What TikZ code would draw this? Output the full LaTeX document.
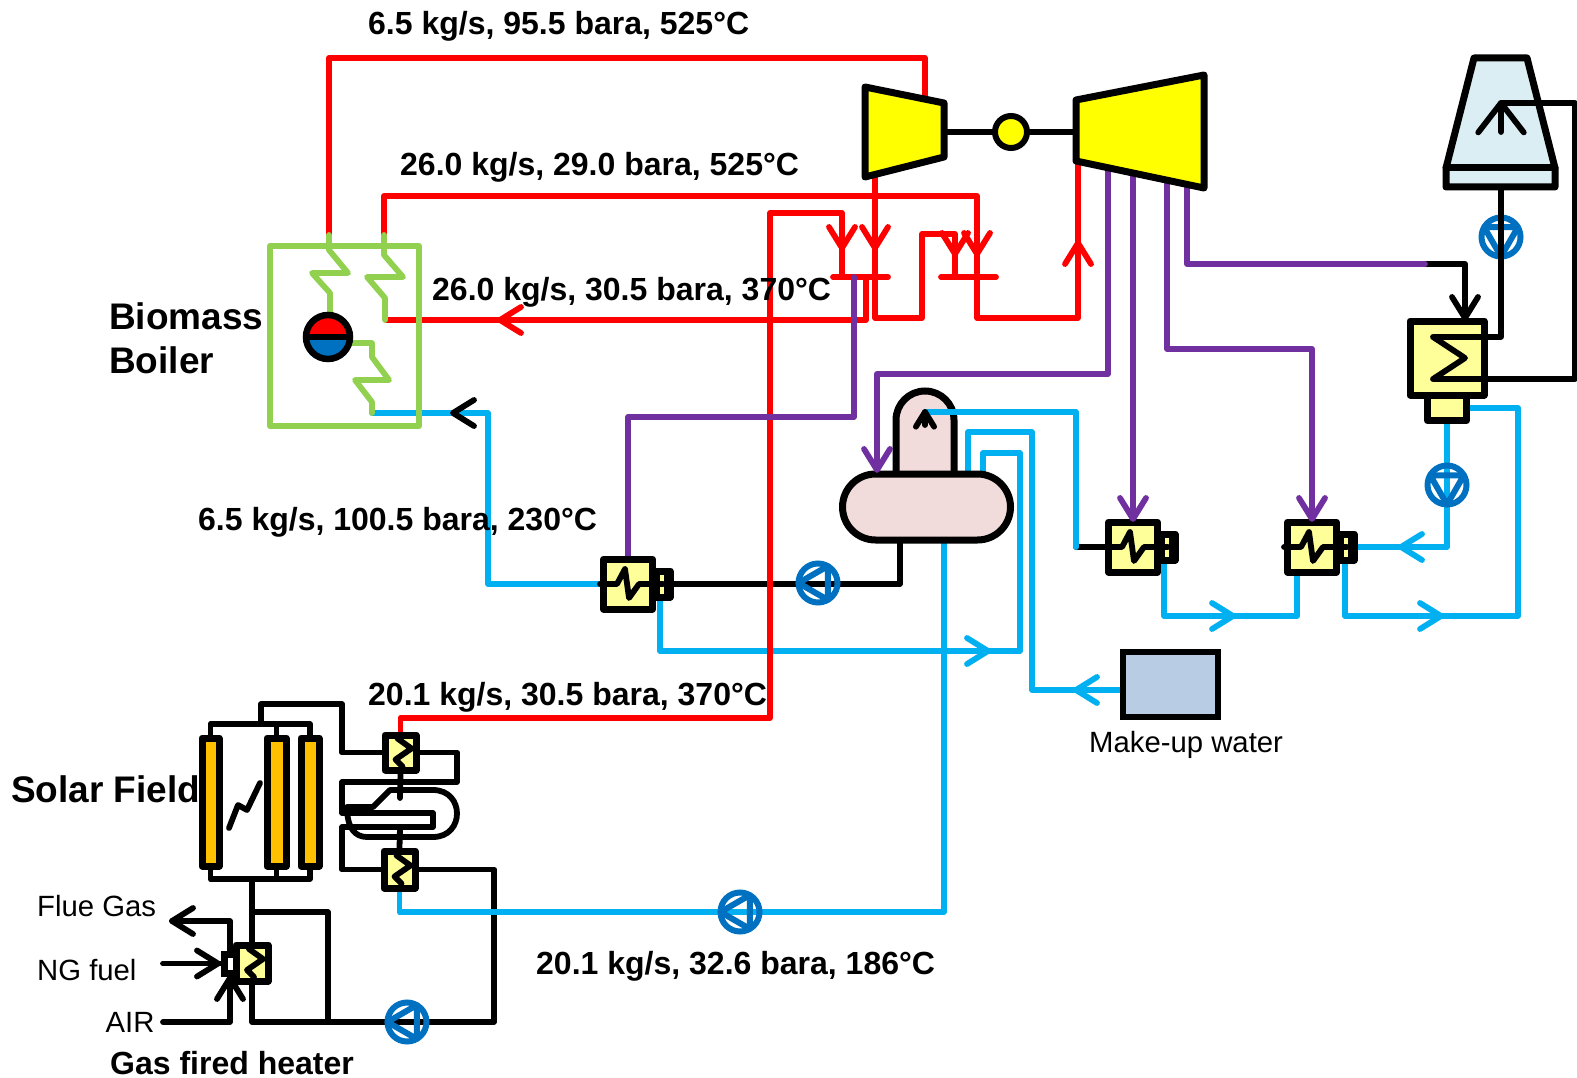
\documentclass[tikz,border=0pt]{standalone}
\usepackage{fontspec}
\setmainfont{Liberation Sans}
\usetikzlibrary{backgrounds}
\definecolor{pipered}{RGB}{255,0,0}
\definecolor{pipeblue}{RGB}{0,176,240}
\definecolor{pipepurple}{RGB}{112,48,160}
\definecolor{boilergreen}{RGB}{146,208,80}
\definecolor{pumpblue}{RGB}{0,112,192}
\definecolor{hxyellow}{RGB}{255,255,153}
\definecolor{turbyellow}{RGB}{255,255,0}
\definecolor{solarorange}{RGB}{255,192,0}
\definecolor{deapink}{RGB}{242,220,219}
\definecolor{towerblue}{RGB}{218,238,243}
\definecolor{tankblue}{RGB}{184,204,228}
\tikzset{
  pipe/.style={line width=5.8pt,line cap=round,line join=round},
  blackpipe/.style={pipe,draw=black},
  bluepipe/.style={pipe,draw=pipeblue},
  redpipe/.style={pipe,draw=pipered},
  purplepipe/.style={pipe,draw=pipepurple},
  greenpipe/.style={pipe,draw=boilergreen},
  hxbox/.style={draw=black,fill=hxyellow,line width=7pt,line join=round,inner sep=0pt},
  pumpnode/.style={circle,draw=pumpblue,line width=6pt,inner sep=0pt,minimum size=39pt},
  pumpline/.style={draw=pumpblue,line width=6pt,line join=round},
  solarbox/.style={draw=black,fill=solarorange,line width=7pt,line join=round,inner sep=0pt},
  biglabel/.style={font=\bfseries\fontsize{37}{44}\selectfont,anchor=west,inner sep=0pt,align=left},
  flowlabel/.style={font=\bfseries\fontsize{32}{38}\selectfont,anchor=west,inner sep=0pt},
  smalllabel/.style={font=\fontsize{29.3}{35}\selectfont,anchor=west,inner sep=0pt},
  chevron/.pic={\draw (-21,-13)--(0,0)--(-21,13);},
  hxcoil/.pic={\draw[blackpipe] (-3,-14)--(11,-4)--(-5,7)--(2,14);}
}
\begin{document}
\begin{tikzpicture}[x=1pt,y=-1pt]
  \useasboundingbox (0,0) rectangle (1577,1078);
  % turbines and shaft
  \coordinate(A0) at (865,87);
  \coordinate(A1) at (944,103);
  \coordinate(A2) at (944,157);
  \coordinate(A3) at (865,177);
  \coordinate(A4) at (1076,100);
  \coordinate(A5) at (1204,75);
  \coordinate(A6) at (1204,188);
  \coordinate(A7) at (1076,161);
  \draw[blackpipe,line width=6pt](A1 |- 0,132)--(A4 |- 0,132);
  \draw[line width=7pt,line join=round,fill=turbyellow](A0)--(A1)--(A2)--(A3)--cycle;
  \draw[line width=7pt,line join=round,fill=turbyellow](A4)--(A5)--(A6)--(A7)--cycle;
  \node[circle,draw=black,fill=turbyellow,line width=6pt,minimum size=32pt,inner sep=0pt](Gen) at (1011,132){};
  % cooling tower
  \coordinate(T0) at (1474,58);
  \coordinate(T1) at (1527,58);
  \coordinate(T2) at (1555,168);
  \coordinate(T3) at (1446,168);
  \coordinate(T4) at (1555,187);
  \coordinate(T5) at (1446,187);
  \draw[line width=7pt,line join=round,fill=towerblue](T0)--(T1)--(T2)--(T4)--(T5)--(T3)--cycle;
  \draw[blackpipe,line width=7pt](T3)--(T2);
  % boiler
  \node[draw=boilergreen,line width=6pt,line join=round,minimum width=149pt,minimum height=180pt,inner sep=0pt](Boiler) at (344.5,336){};
  \draw[greenpipe](329,235)--(329,250)--(348,273)--(312,273)--(330,293)--(330,316);
  \draw[greenpipe](384,235)--(384,255)--(403,277)--(367,277)--(385,298)--(385,320);
  \draw[greenpipe](350,343)--(372,343)--(372,357)--(389,380)--(355,380)--(372,402)--(372,413);
  \node[circle,draw=black,fill=pumpblue,line width=6.5pt,minimum size=44pt,inner sep=0pt,
    path picture={\fill[pipered](path picture bounding box.west) rectangle (path picture bounding box.north east);}](Dr) at (328,337){};
  \draw[blackpipe,line width=6pt,line cap=butt](Dr.west)--(Dr.east);
  % deaerator
  \node[draw=black,fill=deapink,line width=7pt,minimum width=58pt,minimum height=130pt,rounded corners=29pt,inner sep=0pt](Dome) at (925,456){};
  \node[draw=black,fill=deapink,line width=7pt,minimum width=168pt,minimum height=66pt,rounded corners=33pt,inner sep=0pt](Dea) at (926.5,507){};
  % heaters
  \foreach \n/\x/\y in {H1/628/584,H2/1133/547,H3/1312/547}{
    \node[hxbox,minimum width=49pt,minimum height=50pt](\n) at (\x,\y){};
    \node[hxbox,minimum width=14pt,minimum height=26pt](\n e) at (\x+35,\y){};
    \draw[blackpipe](\n.west)--(\x-11,\y)--(\x-3,\y-15)--(\x+1,\y+14)--(\x+11,\y)--(\n e.center);
    \draw[blackpipe,line width=3pt,line cap=butt](\x+37,\y-10)--(\x+37,\y+10);
  }
  % condenser
  \node[hxbox,minimum width=74pt,minimum height=74pt](Cond) at (1447,358){};
  \node[hxbox,minimum width=39pt,minimum height=25pt](Hot) at (1447,408){};
  % make-up tank
  \node[draw=black,fill=tankblue,line width=6.5pt,minimum width=95pt,minimum height=65pt,inner sep=0pt](Tank) at (1170.5,684.5){};
  % solar field
  \foreach \n/\x/\w in {C1/210.5/17,C2/276.5/19,C3/310/18}{
    \node[solarbox,minimum width=\w pt,minimum height=128pt](\n) at (\x,802){};
  }
  \foreach \n/\x/\y/\w/\h in {S1/400.5/752.5/31/35,S2/399.5/869.5/31/37,S3/252/963/32/36}{
    \node[hxbox,minimum width=\w pt,minimum height=\h pt](\n) at (\x,\y){};
    \pic at (\x,\y) {hxcoil};
  }
  \node[draw=black,fill=white,line width=7pt,minimum width=12pt,minimum height=19pt,inner sep=0pt](S3b) at (230,963.5){};
  % pumps
  \foreach \n/\x/\y/\r in {P1/818/583/180,P2/740/912/180,P3/407/1022/180,P4/1501/237/-90,P5/1447/485/-90}{
    \node[pumpnode](\n) at (\x,\y){};
    \draw[pumpline,shift={(\x,\y)},rotate=\r](0:19.5)--(120:19.5)--(240:19.5)--cycle;
  }
  % pipe points
  \coordinate(G0) at (261,724);
  \coordinate(G1) at (252,879);
  \coordinate(L0) at (342,704);
  \coordinate(L1) at (457,782);
  \coordinate(L2) at (342,813);
  \coordinate(L3) at (433,827);
  \coordinate(L4) at (342,869.5);
  \coordinate(L5) at (494,1022);
  \coordinate(L6) at (252,912);
  \coordinate(L7) at (328,1022);
  \coordinate(Q0) at (400,798);
  \coordinate(Q1) at (400,828);
  \coordinate(F0) at (172,921);
  \coordinate(N0) at (163,963.5);
  \coordinate(N1) at (163,1022);
  \coordinate(R0) at (329,235);
  \coordinate(R1) at (925,100);
  \coordinate(R2) at (925,58);
  \coordinate(R3) at (384,235);
  \coordinate(R4) at (977,196);
  \coordinate(R5) at (1078,318);
  \coordinate(R6) at (1078,162);
  \coordinate(R7) at (875,175);
  \coordinate(R8) at (922,318);
  \coordinate(R9) at (955,234);
  \coordinate(R10) at (955,277);
  \coordinate(R11) at (770,718);
  \coordinate(R12) at (842,213);
  \coordinate(R13) at (842,277);
  \coordinate(R14) at (866,277);
  \coordinate(R15) at (386,320);
  \coordinate(V0) at (854,277);
  \coordinate(V1) at (628,417);
  \coordinate(V2) at (1108,168);
  \coordinate(V3) at (877,374);
  \coordinate(V4) at (877,472);
  \coordinate(V5) at (1133,176);
  \coordinate(V6) at (1167,180);
  \coordinate(V7) at (1312,349);
  \coordinate(V8) at (1187,186);
  \coordinate(V9) at (1425,264);
  \coordinate(K0) at (1465,321);
  \coordinate(W0) at (372,413);
  \coordinate(W1) at (488,584);
  \coordinate(W2) at (1020,651);
  \coordinate(W3) at (983,453);
  \coordinate(W4) at (983,478);
  \coordinate(W5) at (1032,690);
  \coordinate(W6) at (968,432);
  \coordinate(W7) at (968,478);
  \coordinate(X0) at (944,539);
  \coordinate(X1) at (399.5,912);
  \coordinate(Y0) at (925,412);
  \coordinate(Y1) at (1076,547);
  \coordinate(Z0) at (1297,616);
  \coordinate(Z1) at (1518,616);
  \coordinate(D0) at (900,539);
  \begin{pgfonlayer}{background}
    % black pipes
    \draw[blackpipe](C1.north)|-(G0)-|(C3.north);
    \draw[blackpipe](C2.north)--(C2.north |- G0);
    \draw[blackpipe](C1.south)|-(G1)-|(C3.south);
    \draw[blackpipe](C2.south)--(C2.south |- G1);
    \draw[blackpipe](G0)|-(L0)|-(S1.west);
    \draw[blackpipe](S1.east)-|(L1)-|(L2)-|(L3)-|(L4)--(S2.west);
    \draw[blackpipe](S2.east)-|(L5)-|(S3.south);
    \draw[blackpipe](G1)--(S3.north);
    \draw[blackpipe](L6)-|(L7);
    \draw[blackpipe](S1.south)--(Q0);
    \draw[blackpipe](Q1)--(S2.north);
    \draw[blackpipe](S3b.north)|-(F0);
    \draw[blackpipe](N0)--(S3b.west);
    \draw[blackpipe](N1)-|(S3b.south);
    \draw[blackpipe](H1e.east)-|(D0);
    \draw[blackpipe](Y1)--(H2.west);
    \draw[blackpipe](V9)-|(K0);
    % blue pipes
    \draw[bluepipe](W0)-|(W1)--(H1.west);
    \draw[bluepipe]([xshift=-3pt]H1e.south)|-(W2)|-(W3)--(W4);
    \draw[bluepipe](Tank.west |- W5)--(W5)|-(W6)--(W7);
    \draw[bluepipe](X0)|-(X1)--(S2.south);
    \draw[bluepipe]([xshift=-4pt]H2e.south)|-(Z0)--([xshift=-15pt]H3.south);
    \draw[bluepipe]([xshift=-2pt]H3e.south)|-(Z1)|-(Hot.east);
    \draw[bluepipe](H3e.east)-|(Hot.south);
    % red pipes
    \draw[redpipe](R0)|-(R2)--(R1);
    \draw[redpipe](R3)|-(R4)|-(R5)--(R6);
    \draw[redpipe](R7)|-(R8)|-(R9)--(R10);
    \draw[redpipe](S1.north)|-(R11)|-(R12)--(R13);
    \draw[redpipe](R14)|-(R15);
    \draw[redpipe](833,277)--(888,277);
    \draw[redpipe](941,277)--(996,277);
    % purple pipes
    \draw[purplepipe](V0)|-(V1)--(H1.north);
    \draw[purplepipe](V2)|-(V3)--(V4);
    \draw[purplepipe](V5)--(H2.north);
    \draw[purplepipe](V6)|-(V7)--(H3.north);
    \draw[purplepipe](V8)|-(V9);
  \end{pgfonlayer}
  % pipes over the vessels
  \draw[bluepipe](Y0)-|(Y1);
  \draw[blackpipe](Y0)--(Y0 |- 0,425);
  \draw[blackpipe](1501,188)--(1501,337)--(1433,337)--(1465,358)--(1433,379)--(1575,379)--(1575,103)--(1501,103)--(1501,132);
  % storage
  \draw[blackpipe](347,807)--(373,807)--(390,790)--(433,790) .. controls (465,790) and (465,837) .. (433,837)--(367,837) .. controls (355,837) and (347,828) .. (347,807);
  % solar flash
  \draw[blackpipe](229,828)--(238,805)--(247,810)--(260,783);
  % flow arrows
  \foreach \x/\y/\r in {875/248/-90,842/248/-90,955/254/-90,977/254/-90,1078/243/90,500/320/180}{
    \pic[redpipe,rotate=\r] at (\x,\y) {chevron};
  }
  \foreach \x/\y/\r in {988/651/0,1233/616/0,1441/616/0,1401/547/180,1076/690/180}{
    \pic[bluepipe,rotate=\r] at (\x,\y) {chevron};
  }
  \foreach \x/\y/\r in {877/470/-90,1133/519/-90,1312/519/-90}{
    \pic[purplepipe,rotate=\r] at (\x,\y) {chevron};
  }
  \foreach \x/\y/\r in {453/413/180,172/921/180,218/963.5/0,230/978/90,1465/318/-90}{
    \pic[blackpipe,rotate=\r] at (\x,\y) {chevron};
  }
  \pic[blackpipe,rotate=90,xscale=1.4,yscale=1.75] at (1501,103) {chevron};
  \pic[blackpipe,rotate=90,scale=.7] at (925,412) {chevron};
  % labels
  \node[flowlabel](t0) at (368,26) {6.5 kg/s, 95.5 bara, 525°C};
  \node[flowlabel](t1) at (400,167) {26.0 kg/s, 29.0 bara, 525°C};
  \node[flowlabel](t2) at (432,292) {26.0 kg/s, 30.5 bara, 370°C};
  \node[flowlabel](t3) at (198,522) {6.5 kg/s, 100.5 bara, 230°C};
  \node[flowlabel](t4) at (368,697) {20.1 kg/s, 30.5 bara, 370°C};
  \node[flowlabel](t5) at (536,966) {20.1 kg/s, 32.6 bara, 186°C};
  \node[biglabel](t6) at (109,316) {Biomass};
  \node[biglabel](t7) at (109,360) {Boiler};
  \node[biglabel](t8) at (11,789) {Solar Field};
  \node[smalllabel](t9) at (37,906) {Flue Gas};
  \node[smalllabel](t10) at (37,970) {NG fuel};
  \node[smalllabel](t11) at (105.5,1022) {AIR};
  \node[flowlabel](t12) at (110,1063) {Gas fired heater};
  \node[smalllabel](t13) at (1089,745) {Make-up water};
\end{tikzpicture}
\end{document}
